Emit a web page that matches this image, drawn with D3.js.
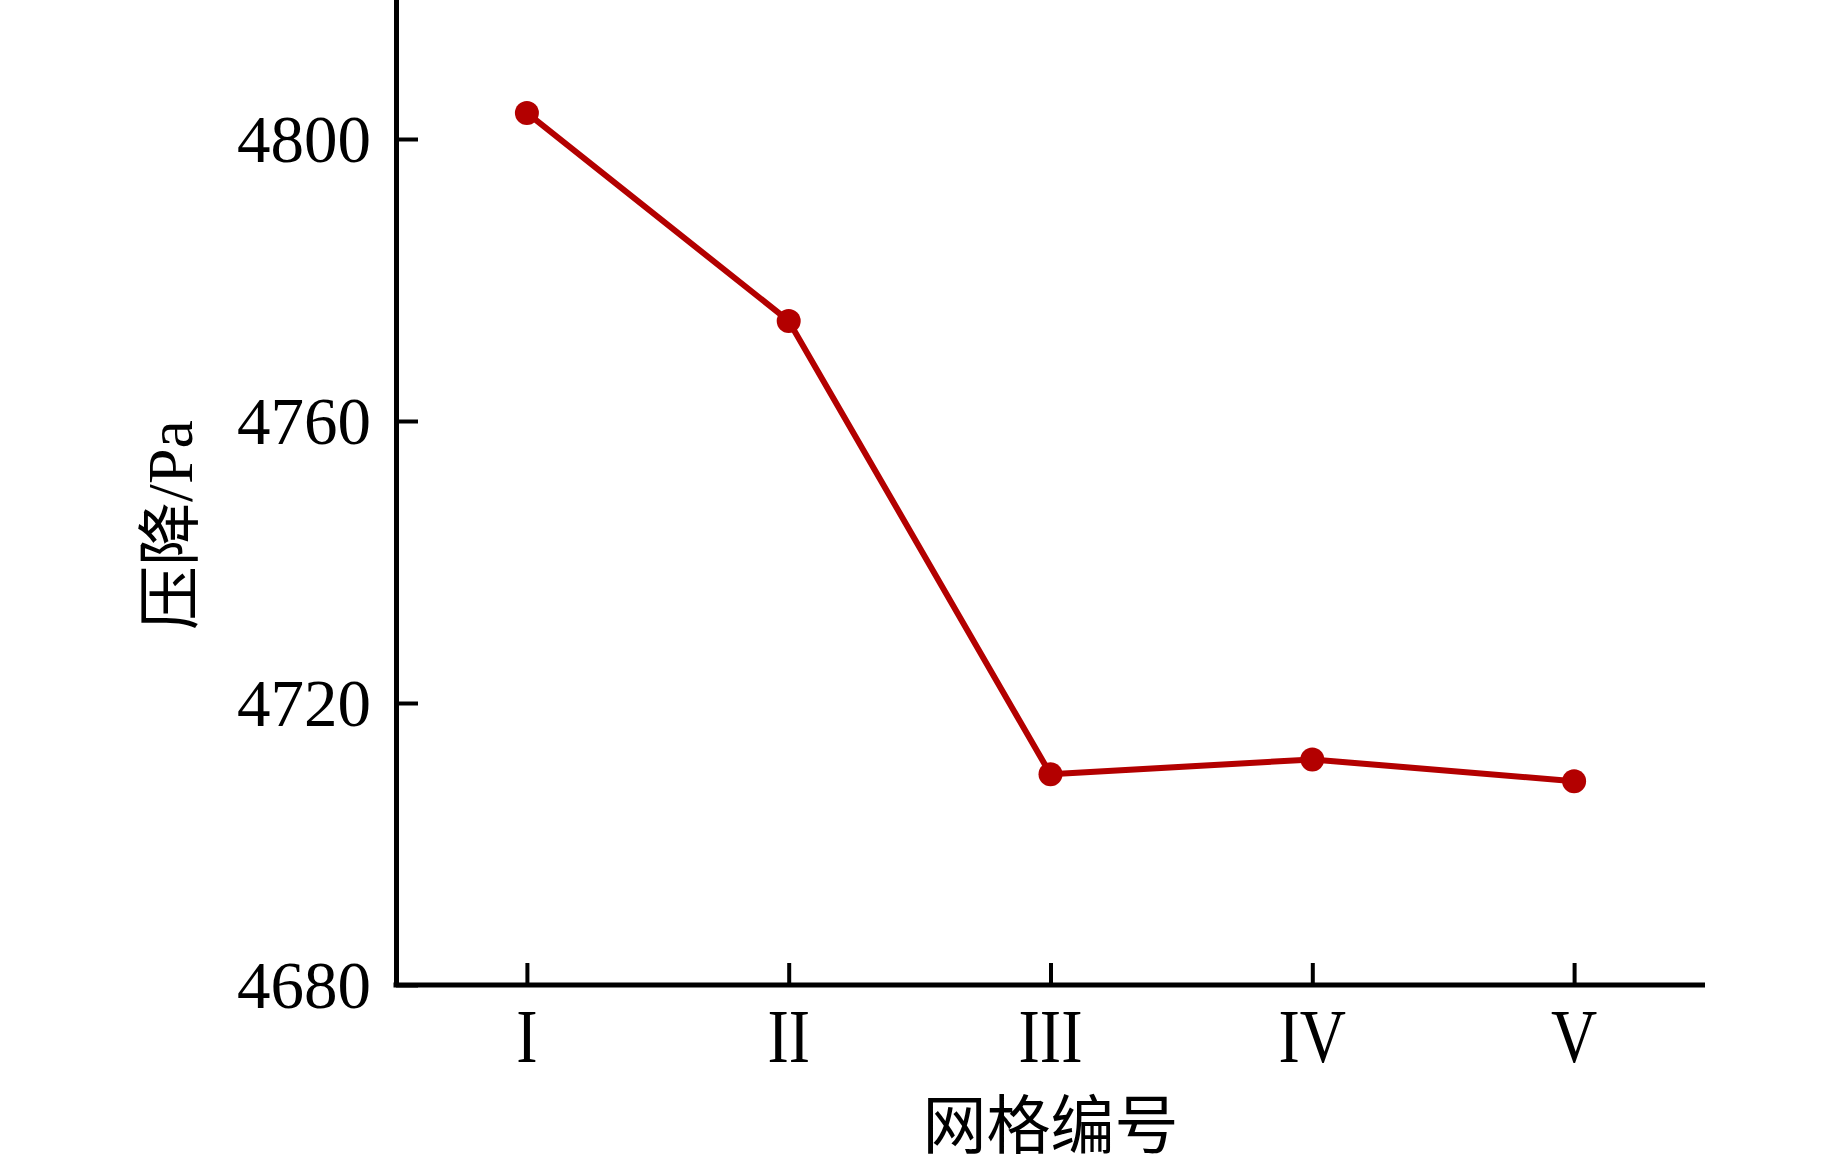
<!DOCTYPE html>
<html>
<head>
<meta charset="utf-8">
<script src="https://cdn.jsdelivr.net/npm/d3@7"></script>
<style>
  html, body { margin: 0; padding: 0; background: #fff; }
  svg { display: block; }
</style>
</head>
<body>
<svg id="chart" width="1843" height="1163"></svg>
<script>
const categories = ["I", "II", "III", "IV", "V"];
const pressureDrop = [4803.7, 4774.2, 4709.9, 4712.0, 4708.9];
const yTicks = [4680, 4720, 4760, 4800];
const xTitle = "网格编号";
const yTitleCJK = "压降";
const yTitleLatin = "/Pa";

const svg = d3.select("#chart");
const plotLeft = 396, plotRight = 1705, plotBottom = 985, plotTop = -2;
const red = "#b30000";
const serif = "Liberation Serif, Times New Roman, serif";
const cjk = "Noto Sans CJK SC, sans-serif";

const x = d3.scalePoint().domain(categories).range([plotLeft, plotRight]).padding(0.5);
const y = d3.scaleLinear().domain([4680, 4820]).range([plotBottom, plotTop]);

// Y axis
const gy = svg.append("g").attr("transform", `translate(${plotLeft},0)`)
  .call(d3.axisLeft(y).tickValues(yTicks).tickFormat(d3.format("d"))
    .tickSize(-22).tickSizeOuter(0).tickPadding(25));
gy.select(".domain").attr("stroke", "#000").attr("stroke-width", 5);
gy.selectAll(".tick line").attr("stroke", "#000").attr("stroke-width", 4);
gy.selectAll(".tick text").attr("font-family", serif).attr("font-size", 67)
  .attr("fill", "#000").attr("dy", "0.33em");

// X axis
const gx = svg.append("g").attr("transform", `translate(0,${plotBottom})`)
  .call(d3.axisBottom(x).tickSize(-22).tickSizeOuter(0).tickFormat(""));
gx.select(".domain").attr("stroke", "#000").attr("stroke-width", 5)
  .attr("d", `M${plotLeft - 2.5},0H${plotRight}`);
gx.selectAll(".tick line").attr("stroke", "#000").attr("stroke-width", 4);

// X tick labels (tall serif roman numerals)
svg.append("g").selectAll("text").data(categories).join("text")
  .attr("transform", d => `translate(${x(d)},1062) scale(1,1.2)`)
  .attr("text-anchor", "middle")
  .attr("font-family", serif).attr("font-size", 64).attr("fill", "#000")
  .text(d => d);

// Line
const line = d3.line().x((d, i) => x(categories[i])).y(d => y(d));
svg.append("path").datum(pressureDrop)
  .attr("d", line).attr("fill", "none").attr("stroke", red)
  .attr("stroke-width", 6).attr("stroke-linejoin", "round");

svg.append("g").selectAll("circle").data(pressureDrop).join("circle")
  .attr("cx", (d, i) => x(categories[i])).attr("cy", d => y(d))
  .attr("r", 12).attr("fill", red);

// Axis titles
svg.append("text").attr("x", (plotLeft + plotRight) / 2).attr("y", 1148)
  .attr("text-anchor", "middle").attr("font-family", "Liberation Serif, Noto Sans CJK SC, serif")
  .attr("font-size", 64).attr("fill", "#000").text(xTitle);

const yt = svg.append("text").attr("transform", "translate(192,525) rotate(-90)")
  .attr("text-anchor", "middle").attr("fill", "#000");
yt.append("tspan").attr("font-family", cjk).attr("font-size", 64).text(yTitleCJK);
yt.append("tspan").attr("font-family", serif).attr("font-size", 64).text(yTitleLatin);
</script>
</body>
</html>
